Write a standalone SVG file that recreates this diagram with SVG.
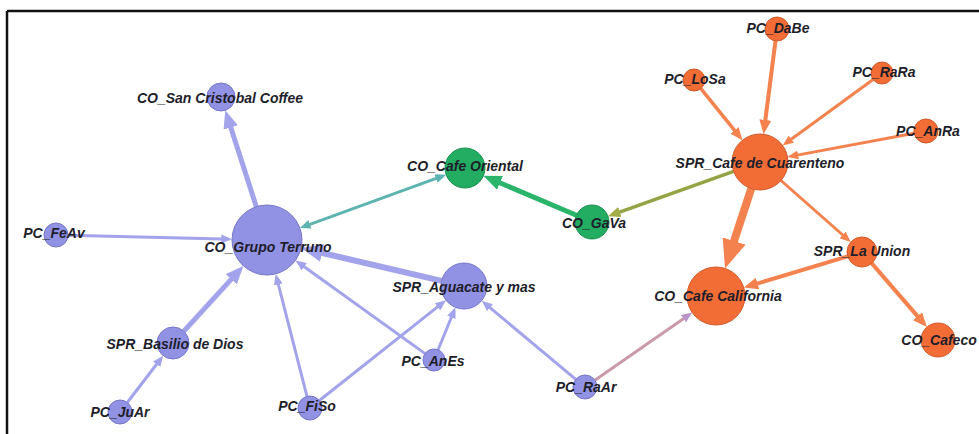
<svg xmlns="http://www.w3.org/2000/svg" width="979" height="434" viewBox="0 0 979 434">
<style>
.e{fill:none;stroke-linecap:butt}
.ep{stroke:#a3a3ec}
.eo{stroke:#f4824e}
.eg{stroke:#2ab56b}
.et{stroke:#5db3b0}
.eol{stroke:#93a444}
.em{stroke:#c99aa9}
.np{fill:#9292e4;stroke:#7676c6;stroke-width:1}
.no{fill:#f26d36;stroke:#d2592a;stroke-width:1}
.ng{fill:#22ad62;stroke:#1a8e50;stroke-width:1}
text{font-family:"Liberation Sans",Arial,sans-serif;font-weight:bold;font-style:italic;font-size:14px;fill:#1e1e2a;text-anchor:middle;dominant-baseline:central}
</style>
<defs>
<marker id="ap" viewBox="0 0 12 10" refX="1" refY="5" markerWidth="3.6" markerHeight="3" markerUnits="strokeWidth" orient="auto-start-reverse"><path d="M0,0 L12,5 L0,10 z" fill="#a3a3ec"/></marker>
<marker id="ao" viewBox="0 0 12 10" refX="1" refY="5" markerWidth="3.6" markerHeight="3" markerUnits="strokeWidth" orient="auto-start-reverse"><path d="M0,0 L12,5 L0,10 z" fill="#f4824e"/></marker>
<marker id="ag" viewBox="0 0 12 10" refX="1" refY="5" markerWidth="3.6" markerHeight="3" markerUnits="strokeWidth" orient="auto-start-reverse"><path d="M0,0 L12,5 L0,10 z" fill="#2ab56b"/></marker>
<marker id="at" viewBox="0 0 12 10" refX="1" refY="5" markerWidth="3.6" markerHeight="3" markerUnits="strokeWidth" orient="auto-start-reverse"><path d="M0,0 L12,5 L0,10 z" fill="#5db3b0"/></marker>
<marker id="aol" viewBox="0 0 12 10" refX="1" refY="5" markerWidth="3.6" markerHeight="3" markerUnits="strokeWidth" orient="auto-start-reverse"><path d="M0,0 L12,5 L0,10 z" fill="#a3ad48"/></marker>
<marker id="am" viewBox="0 0 12 10" refX="1" refY="5" markerWidth="3.6" markerHeight="3" markerUnits="strokeWidth" orient="auto-start-reverse"><path d="M0,0 L12,5 L0,10 z" fill="#b894c8"/></marker>
</defs>
<rect width="979" height="434" fill="#ffffff"/>
<g id="frame" stroke="#111" stroke-width="2.5" fill="none">
<line x1="7" y1="11" x2="979" y2="11"/>
<line x1="7" y1="11" x2="7" y2="434"/>
</g>
<g id="connectors">
<line class="e ep" stroke-width="5" x1="256.3" y1="206.7" x2="230.3" y2="126.0" marker-end="url(#ap)"/>
<line class="e ep" stroke-width="3" x1="68.0" y1="235.3" x2="222.1" y2="238.9" marker-end="url(#ap)"/>
<line class="e ep" stroke-width="5" x1="183.8" y1="331.2" x2="232.3" y2="278.1" marker-end="url(#ap)"/>
<line class="e ep" stroke-width="3" x1="127.3" y1="402.5" x2="157.2" y2="363.5" marker-end="url(#ap)"/>
<line class="e ep" stroke-width="3" x1="307.0" y1="396.4" x2="278.1" y2="283.5" marker-end="url(#ap)"/>
<line class="e ep" stroke-width="3" x1="319.4" y1="400.5" x2="438.2" y2="306.4" marker-end="url(#ap)"/>
<line class="e ep" stroke-width="3" x1="425.1" y1="353.6" x2="303.5" y2="266.2" marker-end="url(#ap)"/>
<line class="e ep" stroke-width="3" x1="438.1" y1="349.8" x2="451.7" y2="316.5" marker-end="url(#ap)"/>
<line class="e ep" stroke-width="6" x1="441.6" y1="280.8" x2="320.4" y2="252.5" marker-end="url(#ap)"/>
<line class="e ep" stroke-width="3" x1="575.8" y1="379.3" x2="489.3" y2="307.1" marker-end="url(#ap)"/>
<line class="e em" stroke-width="3" x1="594.9" y1="380.2" x2="684.1" y2="318.2" marker-end="url(#am)"/>
<line class="e et" stroke-width="3" x1="309.2" y1="224.6" x2="436.9" y2="178.2" marker-start="url(#at)" marker-end="url(#at)"/>
<line class="e eg" stroke-width="5" x1="576.4" y1="215.3" x2="498.6" y2="182.3" marker-end="url(#ag)"/>
<line class="e eol" stroke-width="3.5" x1="733.6" y1="171.4" x2="618.9" y2="212.4" marker-end="url(#aol)"/>
<line class="e eo" stroke-width="4" x1="775.5" y1="40.9" x2="765.2" y2="121.1" marker-end="url(#ao)"/>
<line class="e eo" stroke-width="3.5" x1="700.9" y1="88.6" x2="735.2" y2="131.2" marker-end="url(#ao)"/>
<line class="e eo" stroke-width="3" x1="873.1" y1="79.5" x2="790.6" y2="139.7" marker-end="url(#ao)"/>
<line class="e eo" stroke-width="3" x1="914.2" y1="133.2" x2="797.2" y2="155.1" marker-end="url(#ao)"/>
<line class="e eo" stroke-width="8" x1="751.3" y1="188.6" x2="733.3" y2="243.3" marker-end="url(#ao)"/>
<line class="e eo" stroke-width="3" x1="781.0" y1="180.5" x2="843.3" y2="235.5" marker-end="url(#ao)"/>
<line class="e eo" stroke-width="4" x1="847.6" y1="256.3" x2="756.4" y2="283.8" marker-end="url(#ao)"/>
<line class="e eo" stroke-width="4" x1="871.8" y1="263.4" x2="918.3" y2="317.1" marker-end="url(#ao)"/>
</g>
<g id="n-san-cristobal"><circle class="np" cx="221" cy="97" r="14"/><text x="220" y="98">CO_San Cristobal Coffee</text></g>
<g id="n-grupo-terruno"><circle class="np" cx="267" cy="240" r="35"/><text x="268" y="247">CO_Grupo Terruno</text></g>
<g id="n-cafe-oriental"><circle class="ng" cx="465" cy="168" r="20"/><text x="465" y="166">CO_Cafe Oriental</text></g>
<g id="n-gava"><circle class="ng" cx="592" cy="222" r="17"/><text x="594" y="223">CO_GaVa</text></g>
<g id="n-cuarenteno"><circle class="no" cx="760" cy="162" r="28"/><text x="760" y="163">SPR_Cafe de Cuarenteno</text></g>
<g id="n-dabe"><circle class="no" cx="777" cy="29" r="12"/><text x="778" y="28">PC_DaBe</text></g>
<g id="n-losa"><circle class="no" cx="694" cy="80" r="11"/><text x="695" y="79">PC_LoSa</text></g>
<g id="n-rara"><circle class="no" cx="882" cy="73" r="11"/><text x="884" y="72">PC_RaRa</text></g>
<g id="n-anra"><circle class="no" cx="926" cy="131" r="12"/><text x="928" y="131">PC_AnRa</text></g>
<g id="n-la-union"><circle class="no" cx="862" cy="252" r="15"/><text x="862" y="251">SPR_La Union</text></g>
<g id="n-cafe-california"><circle class="no" cx="716" cy="296" r="29"/><text x="718" y="296">CO_Cafe California</text></g>
<g id="n-cafeco"><circle class="no" cx="938" cy="340" r="17"/><text x="939" y="340">CO_Cafeco</text></g>
<g id="n-aguacate"><circle class="np" cx="464" cy="286" r="23"/><text x="464" y="287">SPR_Aguacate y mas</text></g>
<g id="n-anes"><circle class="np" cx="434" cy="360" r="11"/><text x="433" y="361">PC_AnEs</text></g>
<g id="n-raar"><circle class="np" cx="585" cy="387" r="12"/><text x="586" y="387">PC_RaAr</text></g>
<g id="n-fiso"><circle class="np" cx="310" cy="408" r="12"/><text x="307" y="406">PC_FiSo</text></g>
<g id="n-juar"><circle class="np" cx="120" cy="412" r="12"/><text x="120" y="412">PC_JuAr</text></g>
<g id="n-basilio"><circle class="np" cx="173" cy="343" r="16"/><text x="175" y="344">SPR_Basilio de Dios</text></g>
<g id="n-feav"><circle class="np" cx="56" cy="235" r="12"/><text x="54" y="233">PC_FeAv</text></g>
</svg>
